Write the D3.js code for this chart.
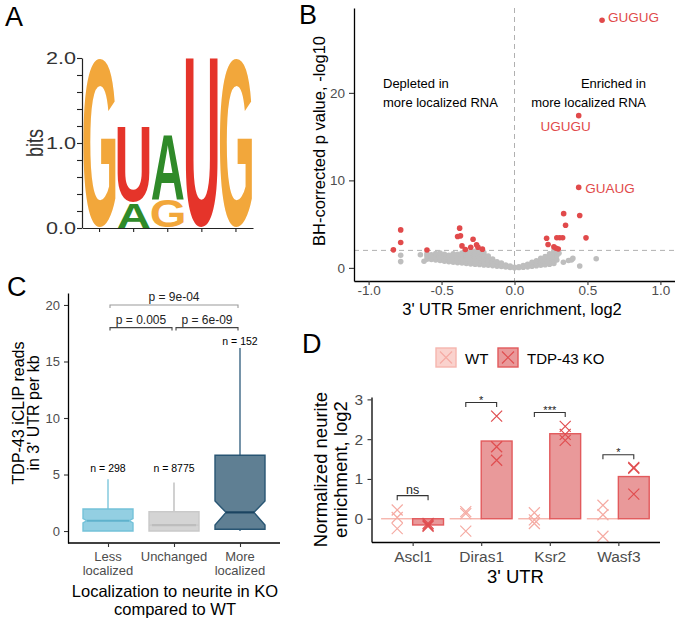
<!DOCTYPE html>
<html>
<head>
<meta charset="utf-8">
<script src="https://cdn.jsdelivr.net/npm/d3@7"></script>
<style>
  body { margin: 0; background: #fff; }
  svg { display: block; font-family: "Liberation Sans", Arial, Helvetica, sans-serif; }
</style>
</head>
<body>
<svg id="fig" width="675" height="623"></svg>
<script>
// ---- panel A: sequence logo, letters stacked bottom -> top, height in bits ----
const logoPos = [1, 2, 3, 4, 5];
const logoLetters = [["G"], ["A", "U"], ["G", "A"], ["U"], ["G"]];
const logoBits = [[2.0], [0.3, 0.89], [0.33, 0.78], [2.0], [2.0]];
const bitTicks = [0, 0.2, 0.4, 0.6, 0.8, 1.0, 1.2, 1.4, 1.6, 1.8, 2.0];
const bitLabels = [0, 1, 2];

// ---- panel B: 5mer volcano ----
const motifNames = ["GUGUG", "UGUGU", "GUAUG"];
const motifX = [0.6, 0.44, 0.44];
const motifY = [28.3, 17.4, 9.2];
const sigX = [-0.83, -0.78, -0.78, -0.60, -0.376, -0.39, -0.37, -0.284, -0.36, -0.337, -0.30, -0.26, -0.25, -0.22,
  0.22, 0.23, 0.29, 0.31, 0.33, 0.337, 0.35, 0.447, 0.49, 0.27, 0.285, 0.30];
const sigY = [2.06, 4.34, 2.9, 2.05, 4.54, 3.58, 3.66, 3.28, 2.51, 2.1, 2.36, 2.63, 2.36, 2.14,
  3.39, 2.67, 3.45, 3.45, 3.45, 6.2, 4.87, 5.98, 3.43, 2.4, 2.25, 2.15];
// non-significant 5mers, grouped by enrichment value
const nsX = [-0.78, -0.645, -0.62, -0.60, -0.57, -0.54, -0.51, -0.48, -0.45, -0.42, -0.39, -0.36, -0.33, -0.30,
  -0.27, -0.24, -0.21, -0.18, -0.15, -0.12, -0.09, -0.06, -0.03, 0.0, 0.03, 0.06, 0.09, 0.12, 0.15, 0.18,
  0.21, 0.24, 0.27, 0.29, 0.305, 0.335, 0.37, 0.39, 0.40, 0.447, 0.56];
const nsY = [
  [0.72, 1.45], [1.5], [0.75], [1.0, 1.35, 1.6], [0.95, 1.25, 1.5], [0.9, 1.2, 1.45, 1.65],
  [0.85, 1.1, 1.4, 1.7], [0.75, 1.0, 1.3, 1.55], [0.7, 0.95, 1.2, 1.45], [0.65, 0.9, 1.15, 1.4, 1.6],
  [0.6, 0.85, 1.1, 1.35, 1.55], [0.55, 0.8, 1.05, 1.3, 1.5, 1.7], [0.5, 0.75, 1.0, 1.25, 1.5, 1.75],
  [0.45, 0.7, 0.95, 1.2, 1.45, 1.7, 1.9], [0.42, 0.65, 0.9, 1.15, 1.4, 1.65, 1.9],
  [0.38, 0.6, 0.85, 1.1, 1.35, 1.6, 1.85], [0.34, 0.55, 0.78, 1.0, 1.25, 1.5, 1.75],
  [0.3, 0.5, 0.7, 0.92, 1.15, 1.35], [0.26, 0.44, 0.62, 0.82, 1.0], [0.2, 0.36, 0.52, 0.7],
  [0.15, 0.28, 0.42, 0.55], [0.1, 0.2, 0.32], [0.05, 0.12, 0.2], [0.02, 0.08], [0.04, 0.12],
  [0.08, 0.18, 0.28], [0.12, 0.25, 0.4], [0.18, 0.32, 0.5, 0.65], [0.24, 0.4, 0.6, 0.8],
  [0.3, 0.48, 0.7, 0.92, 1.1], [0.36, 0.56, 0.8, 1.05, 1.3], [0.42, 0.65, 0.9, 1.15, 1.4, 1.6],
  [0.5, 0.75, 1.0, 1.25, 1.5, 1.75, 1.95], [0.9, 1.4, 1.9], [1.67], [0.65], [0.85], [0.9], [1.08], [0.22], [1.05]
];
const volcanoXTicks = [-1, -0.5, 0, 0.5, 1];
const volcanoYTicks = [0, 10, 20];
const pCutoff = 2;

// ---- panel C: iCLIP reads per localization group ----
const locGroups = ["Less localized", "Unchanged", "More localized"];
const locLines = [["Less", "localized"], ["Unchanged"], ["More", "localized"]];
const boxLower = [0, 0, 0];
const boxQ1 = [0, 0, 0.15];
const boxMedian = [0.91, 0.53, 1.65];
const boxQ3 = [1.95, 1.71, 6.7];
const boxUpper = [4.57, 4.3, 16.2];
const notchLo = [0.72, 0.5, 0.53];
const notchHi = [1.1, 0.56, 2.65];
const groupN = [298, 8775, 152];
const nLabelY = [5.2, 5.2, 16.5];
const compFrom = [0, 1, 0];
const compTo = [1, 2, 2];
const compP = ["p = 0.005", "p = 6e-09", "p = 9e-04"];
const compY = [18, 18, 20];
const readTicks = [0, 5, 10, 15, 20];

// ---- panel D: neurite enrichment per 3' UTR ----
const genes = ["Ascl1", "Diras1", "Ksr2", "Wasf3"];
const conditions = ["WT", "TDP-43 KO"];
const wtReps = [[0.22, 0.03, -0.25], [0.18, 0.13, -0.31], [0.15, -0.03, -0.12], [0.34, 0.1, -0.44]];
const koReps = [[-0.12, -0.16, -0.19], [2.58, 1.81, 1.47], [2.32, 2.12, 1.97], [1.27, 0.62, 1.29]];
const sigText = ["ns", "*", "***", "*"];
const sigBracketY = [0.58, 2.92, 2.67, 1.61];
const enrichTicks = [0, 1, 2, 3];

// ------------------------------------------------------------------
const svg = d3.select("#fig");
const FONT = '"Liberation Sans", Arial, Helvetica, sans-serif';
const tickGrey = "#4d4d4d";

svg.append("rect").attr("width", 675).attr("height", 623).attr("fill", "#fff");

function panelLabel(t, x, y) {
  svg.append("text").attr("x", x).attr("y", y)
    .attr("font-size", 27).attr("fill", "#000").text(t);
}

// style an axis group the ggplot classic way
function styleAxis(g, size) {
  g.attr("font-family", FONT).attr("font-size", size);
  g.select(".domain").attr("stroke", "#000").attr("stroke-width", 1.3);
  g.selectAll(".tick line").attr("stroke", "#333").attr("stroke-width", 1.1);
  g.selectAll(".tick text").attr("fill", tickGrey);
}

// ================= A =================
panelLabel("A", 5, 26);
const xA = d3.scaleBand().domain(logoPos).range([82.5, 253]);
const yA = d3.scaleLinear().domain([0, 2]).range([228, 58]);
const logoColor = { G: "#f2a73b", U: "#e5342a", A: "#2f8a29" };

const ctx = document.createElement("canvas").getContext("2d");
ctx.font = `bold 100px ${FONT}`;

logoPos.forEach((p, i) => {
  let base = 0;
  logoLetters[i].forEach((letter, j) => {
    const h = logoBits[i][j];
    const x0 = xA(p) + 1, w = xA.bandwidth() - 2;
    const yb = yA(base) - 0.5, yt = yA(base + h) + 0.5;
    const m = ctx.measureText(letter);
    const L = m.actualBoundingBoxLeft, R = m.actualBoundingBoxRight;
    const asc = m.actualBoundingBoxAscent, desc = m.actualBoundingBoxDescent;
    const sx = w / (L + R), sy = (yb - yt) / (asc + desc);
    svg.append("text")
      .attr("font-size", 100).attr("font-weight", "bold")
      .attr("fill", logoColor[letter])
      .attr("transform", `translate(${x0 + L * sx},${yt + asc * sy}) scale(${sx},${sy})`)
      .text(letter);
    base += h;
  });
});

const gAy = svg.append("g").attr("transform", "translate(82,0)")
  .call(d3.axisLeft(yA).tickValues(bitTicks).tickSize(5).tickSizeOuter(0).tickFormat(""));
gAy.select(".domain").attr("stroke", "#222").attr("stroke-width", 1.2);
gAy.selectAll(".tick line").attr("stroke", "#222").attr("stroke-width", 1.1);
const gAx = svg.append("g").attr("transform", "translate(0,228)")
  .call(d3.axisBottom(xA).tickSize(4).tickSizeOuter(0).tickFormat(""));
gAx.select(".domain").attr("stroke", "#222").attr("stroke-width", 1.2);
gAx.selectAll(".tick line").attr("stroke", "#222").attr("stroke-width", 1.1);

bitLabels.forEach(v => {
  svg.append("text")
    .attr("transform", `translate(76,${yA(v) + 5.8}) scale(1.35,1)`)
    .attr("text-anchor", "end").attr("font-size", 16).attr("fill", "#333")
    .text(v.toFixed(1));
});
svg.append("text")
  .attr("transform", `translate(42.5,${yA(1)}) scale(1.3,1) rotate(-90)`)
  .attr("text-anchor", "middle").attr("font-size", 18).attr("fill", "#333")
  .text("bits");

// ================= B =================
panelLabel("B", 299, 24);
const xB = d3.scaleLinear().domain([-1.1, 1.1]).range([354, 675]);
const yB = d3.scaleLinear().domain([-1.5, 29.7]).range([281, 8]);
const red = "#e14a4b";

// threshold guides
svg.append("line").attr("x1", xB(0)).attr("x2", xB(0)).attr("y1", 8).attr("y2", 281)
  .attr("stroke", "#b0b0b0").attr("stroke-width", 1).attr("stroke-dasharray", "5,4");
svg.append("line").attr("x1", 354).attr("x2", 675).attr("y1", yB(pCutoff)).attr("y2", yB(pCutoff))
  .attr("stroke", "#b0b0b0").attr("stroke-width", 1).attr("stroke-dasharray", "5,4");

const nsPts = nsX.flatMap((x, i) => nsY[i].map(y => [x, y]));
svg.append("g").selectAll("circle").data(nsPts).join("circle")
  .attr("cx", d => xB(d[0])).attr("cy", d => yB(d[1])).attr("r", 2.8)
  .attr("fill", "#bebebe");
const sigPts = sigX.map((x, i) => [x, sigY[i]]).concat(motifX.map((x, i) => [x, motifY[i]]));
svg.append("g").selectAll("circle").data(sigPts).join("circle")
  .attr("cx", d => xB(d[0])).attr("cy", d => yB(d[1])).attr("r", 2.8)
  .attr("fill", red);

// motif labels (repel-style offsets)
const motifOffset = [[6, 2, "start"], [12, 15, "end"], [6.5, 5.5, "start"]];
motifNames.forEach((name, i) => {
  svg.append("text")
    .attr("x", xB(motifX[i]) + motifOffset[i][0]).attr("y", yB(motifY[i]) + motifOffset[i][1])
    .attr("text-anchor", motifOffset[i][2]).attr("font-size", 13.5).attr("fill", red)
    .text(name);
});

[["Depleted in", 88], ["more localized RNA", 107]].forEach(([t, y]) =>
  svg.append("text").attr("x", 383).attr("y", y).attr("font-size", 13).text(t));
[["Enriched in", 88], ["more localized RNA", 107]].forEach(([t, y]) =>
  svg.append("text").attr("x", 646).attr("y", y).attr("text-anchor", "end").attr("font-size", 13).text(t));

const gBx = svg.append("g").attr("transform", "translate(0,281)")
  .call(d3.axisBottom(xB).tickValues(volcanoXTicks).tickSize(4).tickPadding(0.5)
    .tickSizeOuter(0).tickFormat(d => d.toFixed(1)));
styleAxis(gBx, 13.5);
const gBy = svg.append("g").attr("transform", "translate(354,0)")
  .call(d3.axisLeft(yB).tickValues(volcanoYTicks).tickSize(5).tickPadding(4).tickSizeOuter(0)
    .tickFormat(d3.format("d")));
styleAxis(gBy, 13.5);

svg.append("text").attr("x", 512).attr("y", 315).attr("text-anchor", "middle")
  .attr("font-size", 16.5).text("3' UTR 5mer enrichment, log2");
svg.append("text").attr("transform", "translate(325,141) rotate(-90)").attr("text-anchor", "middle")
  .attr("font-size", 16.5).text("BH-corrected p value, -log10");

// ================= C =================
panelLabel("C", 7, 296);
const xC = d3.scalePoint().domain(locGroups).range([68.4, 279.6]).padding(0.6);
const yC = d3.scaleLinear().domain([-1.06, 21.06]).range([543, 293]);
const boxW = 50;
const notchIndent = [4, 3, 11];
const boxFill = ["#93cfe2", "#d4d4d4", "#5f7f93"];
const boxStroke = ["#74c2d9", "#c9c9c9", "#285573"];
const medStroke = ["#5fb2cc", "#bdbdbd", "#1b4461"];
const whiskStroke = ["#7cc6dc", "#bdbdbd", "#3b6684"];

locGroups.forEach((g, i) => {
  const cx = xC(g), l = cx - boxW / 2, r = cx + boxW / 2, ind = notchIndent[i];
  // whiskers
  svg.append("line").attr("x1", cx).attr("x2", cx).attr("y1", yC(boxQ3[i])).attr("y2", yC(boxUpper[i]))
    .attr("stroke", whiskStroke[i]).attr("stroke-width", 1.4);
  svg.append("line").attr("x1", cx).attr("x2", cx).attr("y1", yC(boxQ1[i])).attr("y2", yC(boxLower[i]))
    .attr("stroke", whiskStroke[i]).attr("stroke-width", 1.4);
  // notched box
  const yq1 = yC(boxQ1[i]), yq3 = yC(boxQ3[i]), ym = yC(boxMedian[i]);
  const ynl = yC(notchLo[i]), ynh = yC(notchHi[i]);
  const path = `M${l},${yq3}H${r}V${ynh}L${r - ind},${ym}L${r},${ynl}V${yq1}H${l}V${ynl}L${l + ind},${ym}L${l},${ynh}Z`;
  svg.append("path").attr("d", path).attr("fill", boxFill[i])
    .attr("stroke", boxStroke[i]).attr("stroke-width", 1.4);
  svg.append("line").attr("x1", l + ind).attr("x2", r - ind).attr("y1", ym).attr("y2", ym)
    .attr("stroke", medStroke[i]).attr("stroke-width", 2.2);
  // n label
  svg.append("text").attr("x", cx).attr("y", yC(nLabelY[i])).attr("text-anchor", "middle")
    .attr("font-size", 10.5).text(`n = ${groupN[i]}`);
});

// significance brackets
compP.forEach((p, k) => {
  const x1 = xC(locGroups[compFrom[k]]) + 2, x2 = xC(locGroups[compTo[k]]) - 2, y = yC(compY[k]);
  const col = compY[k] === d3.max(compY) ? "#9a9a9a" : "#444";
  svg.append("path").attr("d", `M${x1},${y + 3}V${y}H${x2}V${y + 3}`)
    .attr("fill", "none").attr("stroke", col).attr("stroke-width", 1.1);
  svg.append("text").attr("x", (x1 + x2) / 2).attr("y", y - 4).attr("text-anchor", "middle")
    .attr("font-size", 12).attr("fill", "#222").text(p);
});

const gCy = svg.append("g").attr("transform", "translate(68,0)")
  .call(d3.axisLeft(yC).tickValues(readTicks).tickSize(4).tickPadding(4).tickSizeOuter(0)
    .tickFormat(d3.format("d")));
styleAxis(gCy, 13);
const gCx = svg.append("g").attr("transform", "translate(0,543)")
  .call(d3.axisBottom(xC).tickSize(4).tickSizeOuter(0).tickFormat(""));
styleAxis(gCx, 13);
gCx.select(".domain").attr("d", "M68,0H280");
locGroups.forEach((g, i) => {
  locLines[i].forEach((t, j) => {
    svg.append("text").attr("x", xC(g)).attr("y", 561 + j * 14).attr("text-anchor", "middle")
      .attr("font-size", 13).attr("fill", tickGrey).text(t);
  });
});

svg.append("text").attr("x", 175).attr("y", 597).attr("text-anchor", "middle")
  .attr("font-size", 16.5).text("Localization to neurite in KO");
svg.append("text").attr("x", 175).attr("y", 615).attr("text-anchor", "middle")
  .attr("font-size", 16.5).text("compared to WT");
svg.append("text").attr("transform", "translate(24,413) rotate(-90)").attr("text-anchor", "middle")
  .attr("font-size", 16).text("TDP-43 iCLIP reads");
svg.append("text").attr("transform", "translate(39,413) rotate(-90)").attr("text-anchor", "middle")
  .attr("font-size", 16).text("in 3' UTR per kb");

// ================= D =================
panelLabel("D", 302, 353);
const xD = d3.scalePoint().domain(genes).range([371.5, 659.5]).padding(0.6);
const dodge = d3.scaleBand().domain(conditions).range([-xD.step() * 0.45, xD.step() * 0.45]);
const yD = d3.scaleLinear().domain([-0.585, 3.06]).range([542, 397]);
const condFill = { "WT": "#fad2cd", "TDP-43 KO": "#e9999a" };
const condStroke = { "WT": "#f6b6ae", "TDP-43 KO": "#e25a5c" };
const condMark = { "WT": "#f5aba3", "TDP-43 KO": "#e04e50" };

function cross(g, cx, cy, s, col) {
  g.append("path").attr("d", `M${cx - s},${cy - s}L${cx + s},${cy + s}M${cx - s},${cy + s}L${cx + s},${cy - s}`)
    .attr("stroke", col).attr("stroke-width", 1.2).attr("fill", "none");
}

genes.forEach((gene, i) => {
  [["WT", wtReps[i]], ["TDP-43 KO", koReps[i]]].forEach(([cond, reps]) => {
    const mean = d3.mean(reps);
    const x0 = xD(gene) + dodge(cond);
    svg.append("rect").attr("x", x0).attr("width", dodge.bandwidth())
      .attr("y", Math.min(yD(0), yD(mean))).attr("height", Math.max(Math.abs(yD(mean) - yD(0)), 0.01))
      .attr("fill", condFill[cond]).attr("stroke", condStroke[cond]).attr("stroke-width", 1.4);
  });
});
genes.forEach((gene, i) => {
  [["WT", wtReps[i]], ["TDP-43 KO", koReps[i]]].forEach(([cond, reps]) => {
    const cx = xD(gene) + dodge(cond) + dodge.bandwidth() / 2;
    reps.forEach(v => cross(svg, cx, yD(v), 5.5, condMark[cond]));
  });
  // bracket + significance text
  const x1 = xD(gene) + dodge("WT") + dodge.bandwidth() / 2;
  const x2 = xD(gene) + dodge("TDP-43 KO") + dodge.bandwidth() / 2;
  const y = yD(sigBracketY[i]);
  svg.append("path").attr("d", `M${x1},${y + 4.5}V${y}H${x2}V${y + 4.5}`)
    .attr("fill", "none").attr("stroke", "#333").attr("stroke-width", 1.1);
  svg.append("text").attr("x", (x1 + x2) / 2).attr("y", sigText[i] === "ns" ? y - 2 : y + 1)
    .attr("text-anchor", "middle").attr("font-size", sigText[i] === "ns" ? 12.5 : 11).attr("fill", "#222")
    .text(sigText[i]);
});

const gDy = svg.append("g").attr("transform", "translate(371.5,0)")
  .call(d3.axisLeft(yD).tickValues(enrichTicks).tickSize(4).tickPadding(4.5).tickSizeOuter(0)
    .tickFormat(d3.format("d")));
styleAxis(gDy, 15.5);
const gDx = svg.append("g").attr("transform", "translate(0,542)")
  .call(d3.axisBottom(xD).tickSize(4).tickPadding(5).tickSizeOuter(0));
styleAxis(gDx, 15.5);

svg.append("text").attr("x", 515.5).attr("y", 583).attr("text-anchor", "middle")
  .attr("font-size", 18.5).text("3' UTR");
svg.append("text").attr("transform", "translate(327,469.5) rotate(-90)").attr("text-anchor", "middle")
  .attr("font-size", 18.5).text("Normalized neurite");
svg.append("text").attr("transform", "translate(347,469.5) rotate(-90)").attr("text-anchor", "middle")
  .attr("font-size", 18.5).text("enrichment, log2");

// legend
const legX = { "WT": 436, "TDP-43 KO": 498 };
conditions.forEach(cond => {
  const lx = legX[cond];
  svg.append("rect").attr("x", lx).attr("y", 348).attr("width", 20).attr("height", 19)
    .attr("fill", condFill[cond]).attr("stroke", condStroke[cond]).attr("stroke-width", 1.4);
  cross(svg, lx + 10, 357.5, 6, condMark[cond]);
  svg.append("text").attr("x", lx + 29).attr("y", 364).attr("font-size", 15).text(cond);
});
</script>
</body>
</html>
